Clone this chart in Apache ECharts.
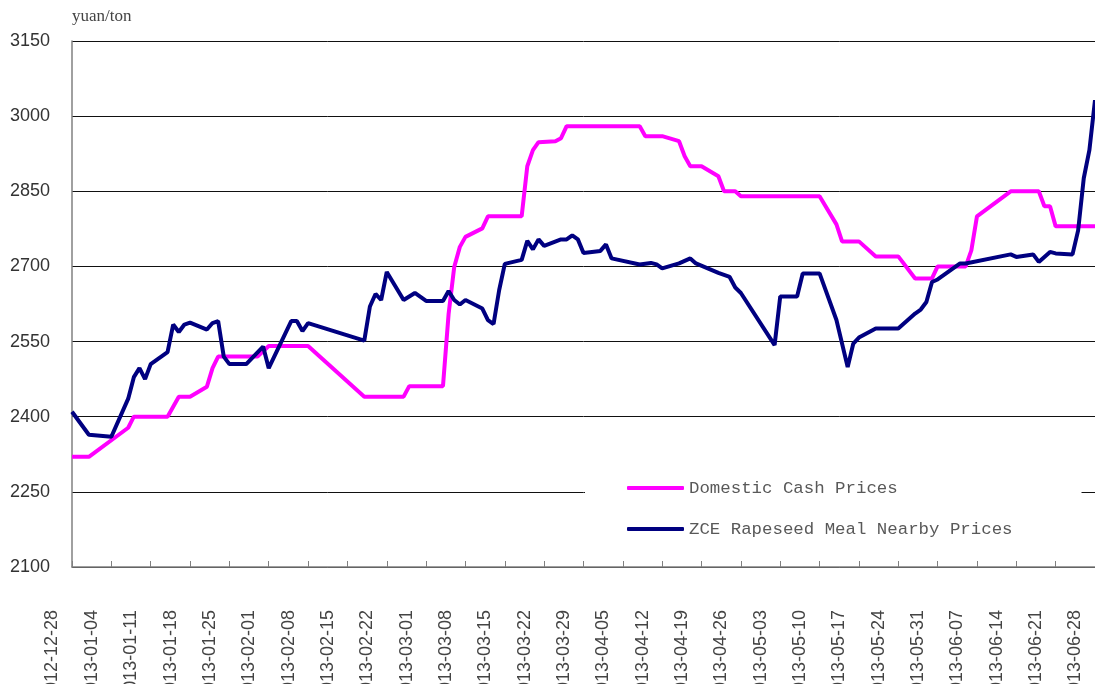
<!DOCTYPE html>
<html>
<head>
<meta charset="UTF-8">
<title>Rapeseed meal prices</title>
<script type="text/javascript" src="https://cdn.jsdelivr.net/npm/echarts@6/dist/echarts.min.js"></script>
<style>
  html, body { margin: 0; padding: 0; background: #fff; }
</style>
</head>
<body>
	<div id="div1" style="width:1095px;height:684px"></div>
	<script type="text/javascript">
	// Domestic Cash Prices (vertices)
	var cashDates = ['2012-12-31','2013-01-03','2013-01-10','2013-01-11','2013-01-17','2013-01-19','2013-01-21','2013-01-24','2013-01-25','2013-01-26',
		'2013-02-02','2013-02-04','2013-02-11','2013-02-21','2013-02-28','2013-03-01','2013-03-07','2013-03-08','2013-03-09','2013-03-10',
		'2013-03-11','2013-03-14','2013-03-15','2013-03-21','2013-03-22','2013-03-23','2013-03-24','2013-03-27','2013-03-28','2013-03-29',
		'2013-04-11','2013-04-12','2013-04-15','2013-04-18','2013-04-19','2013-04-20','2013-04-22','2013-04-25','2013-04-26','2013-04-28',
		'2013-04-29','2013-05-13','2013-05-16','2013-05-17','2013-05-20','2013-05-23','2013-05-27','2013-05-30','2013-06-02','2013-06-03',
		'2013-06-08','2013-06-09','2013-06-10','2013-06-16','2013-06-21','2013-06-22','2013-06-23','2013-06-24','2013-07-01'];
	var cashValues = [2320,2320,2378,2400,2400,2440,2440,2460,2497,2520,
		2520,2541,2541,2440,2440,2461,2461,2605,2699,2739,
		2759,2776,2800,2800,2900,2932,2948,2950,2956,2980,
		2980,2960,2960,2950,2920,2900,2900,2880,2850,2850,
		2840,2840,2784,2750,2750,2720,2720,2676,2676,2700,
		2700,2732,2800,2850,2850,2820,2820,2780,2780];

	// ZCE Rapeseed Meal Nearby Prices
	var zceDates = ['2012-12-31','2013-01-03','2013-01-07','2013-01-10','2013-01-11','2013-01-12','2013-01-13','2013-01-14','2013-01-17','2013-01-18',
		'2013-01-19','2013-01-20','2013-01-21','2013-01-24','2013-01-25','2013-01-26','2013-01-27','2013-01-28','2013-01-31','2013-02-03',
		'2013-02-04','2013-02-08','2013-02-09','2013-02-10','2013-02-11','2013-02-21','2013-02-22','2013-02-23','2013-02-24','2013-02-25',
		'2013-02-28','2013-03-02','2013-03-04','2013-03-07','2013-03-08','2013-03-09','2013-03-10','2013-03-11','2013-03-14','2013-03-15',
		'2013-03-16','2013-03-17','2013-03-18','2013-03-21','2013-03-22','2013-03-23','2013-03-24','2013-03-25','2013-03-28','2013-03-29',
		'2013-03-30','2013-03-31','2013-04-01','2013-04-04','2013-04-05','2013-04-06','2013-04-11','2013-04-13','2013-04-14','2013-04-15',
		'2013-04-18','2013-04-20','2013-04-21','2013-04-25','2013-04-27','2013-04-28','2013-04-29','2013-05-05','2013-05-06','2013-05-09',
		'2013-05-10','2013-05-13','2013-05-16','2013-05-18','2013-05-19','2013-05-20','2013-05-23','2013-05-27','2013-05-30','2013-05-31',
		'2013-06-01','2013-06-02','2013-06-03','2013-06-07','2013-06-08','2013-06-16','2013-06-17','2013-06-20','2013-06-21','2013-06-23',
		'2013-06-24','2013-06-27','2013-06-28','2013-06-29','2013-06-30','2013-07-01'];
	var zceValues = [2410,2364,2360,2436,2479,2497,2475,2505,2529,2584,
		2569,2584,2588,2574,2587,2591,2520,2505,2505,2540,
		2497,2591,2591,2571,2587,2552,2620,2645,2633,2689,
		2633,2647,2631,2631,2651,2633,2624,2633,2616,2593,
		2585,2653,2705,2713,2751,2734,2754,2741,2754,2754,
		2762,2754,2727,2731,2744,2716,2704,2707,2704,2696,
		2706,2716,2706,2687,2679,2658,2647,2543,2640,2640,
		2686,2686,2593,2499,2546,2558,2576,2576,2606,2614,
		2629,2669,2674,2706,2706,2724,2719,2724,2709,2729,
		2726,2724,2772,2876,2932,3032];

	var seriesNames = ['Domestic Cash Prices', 'ZCE Rapeseed Meal Nearby Prices'];

	// x axis counts days from the first trading day; labels name the Friday of the week
	var DAY = 86400000;
	var start = Date.UTC(2012, 11, 31);
	var labelStart = Date.UTC(2012, 11, 28);

	function dayOf(s) {
		var p = s.split('-');
		return (Date.UTC(+p[0], +p[1] - 1, +p[2]) - start) / DAY;
	}
	function pair(dates, values) {
		var res = [];
		for (var i = 0; i < dates.length; i++) {
			res.push([dayOf(dates[i]), values[i]]);
		}
		return res;
	}
	function pad(n) { return n < 10 ? '0' + n : '' + n; }

	var myChart = echarts.init(document.getElementById('div1'));

	var option = {
		animation: false,
		grid: { left: 72, right: 0, top: 41, bottom: 117, outerBoundsMode: 'none', containLabel: false },
		legend: {
			orient: 'vertical',
			left: 585,
			top: 464,
			padding: [14, 69, 16, 42],
			backgroundColor: '#fff',
			itemWidth: 57,
			itemHeight: 4,
			itemGap: 21,
			icon: 'roundRect',
			textStyle: { fontFamily: 'Liberation Mono', fontSize: 17.4, color: '#595959', lineHeight: 20 },
			data: seriesNames
		},
		xAxis: {
			type: 'value',
			min: 0,
			max: 182,
			interval: 7,
			axisLine: { lineStyle: { color: '#808080', width: 1.5 } },
			axisTick: { inside: true, length: 6, lineStyle: { color: '#808080' } },
			splitLine: { show: false },
			axisLabel: {
				rotate: 90,
				margin: 43,
				verticalAlign: 'bottom',
				lineHeight: 39,
				fontFamily: 'Liberation Sans',
				fontSize: 18,
				color: '#444',
				showMinLabel: true,
				showMaxLabel: true,
				formatter: function (v) {
					var d = new Date(labelStart + v * DAY);
					return d.getUTCFullYear() + '-' + pad(d.getUTCMonth() + 1) + '-' + pad(d.getUTCDate());
				}
			}
		},
		yAxis: {
			type: 'value',
			min: 2100,
			max: 3150,
			interval: 150,
			name: 'yuan/ton',
			nameLocation: 'end',
			nameGap: 24,
			nameTextStyle: { align: 'left', verticalAlign: 'middle', fontFamily: 'Liberation Serif', fontSize: 17, color: '#444' },
			axisLine: { show: true, lineStyle: { color: '#808080', width: 1.5 } },
			axisTick: { show: false },
			splitLine: { lineStyle: { color: '#111', width: 1 } },
			axisLabel: {
				margin: 22, fontFamily: 'Liberation Sans', fontSize: 18, color: '#333',
				formatter: function (v) { return String(v); }
			}
		},
		series: [
			{
				name: seriesNames[0],
				type: 'line',
				symbol: 'none',
				color: '#FF00FF',
				lineStyle: { width: 4, color: '#FF00FF' },
				data: pair(cashDates, cashValues)
			},
			{
				name: seriesNames[1],
				type: 'line',
				symbol: 'none',
				color: '#000080',
				lineStyle: { width: 4, color: '#000080' },
				data: pair(zceDates, zceValues)
			}
		]
	};
	myChart.setOption(option);
	</script>
</body>
</html>
